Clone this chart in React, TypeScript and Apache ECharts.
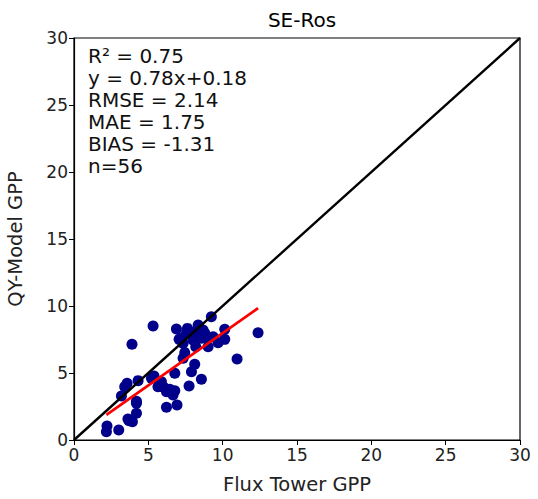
import React, { useEffect, useRef } from "react";
import * as echarts from "echarts";

const fluxGPP = [2.22, 2.18, 3.01, 3.63, 3.93, 4.2, 4.2, 3.19, 3.41, 3.57, 4.31, 3.9, 5.32, 5.38, 5.88, 5.65, 6.22, 6.78, 6.66, 6.22, 6.93, 6.78, 7.74, 8.57, 7.9, 8.12, 7.34, 7.45, 6.89, 7.63, 7.79, 7.07, 7.34, 8.19, 8.35, 8.68, 8.91, 9.02, 9.24, 9.36, 9.69, 10.14, 10.14, 10.97, 12.38, 8.57, 8.0, 8.12, 6.44, 6.04, 5.21, 4.2, 7.56, 8.8, 7.23, 3.7];
const modelGPP = [1.04, 0.62, 0.75, 1.57, 1.37, 1.99, 2.74, 3.28, 3.98, 4.23, 4.43, 7.14, 8.51, 4.78, 4.35, 3.98, 3.6, 3.68, 3.36, 2.44, 2.61, 4.98, 4.03, 4.53, 5.1, 5.65, 6.1, 6.52, 8.28, 8.33, 7.96, 7.51, 7.22, 6.96, 8.58, 8.21, 7.71, 6.96, 9.2, 7.71, 7.26, 8.26, 7.51, 6.04, 8.01, 7.59, 7.46, 8.08, 3.78, 3.93, 4.6, 2.9, 7.96, 7.96, 7.59, 1.44];
const slope = 0.78;
const intercept = 0.18;
const statLines = ["R² = 0.75", "y = 0.78x+0.18", "RMSE = 2.14", "MAE = 1.75", "BIAS = -1.31", "n=56"];
const axisMin = 0;
const axisMax = 30;
const tickStep = 5;

export default function App() {
  const ref = useRef<HTMLDivElement>(null);
  useEffect(() => {
    document.body.style.margin = "0";
    if (!ref.current) return;
    const chart = echarts.init(ref.current, null, { renderer: "svg" });
    const pts = fluxGPP.map((x, i) => [x, modelGPP[i]]);
    const xMin = Math.min(...fluxGPP);
    const xMax = Math.max(...fluxGPP);
    const font = "DejaVu Sans";
    const axisCommon = {
      min: axisMin,
      max: axisMax,
      interval: tickStep,
      axisLine: { show: true, onZero: false, lineStyle: { color: "#000", width: 1.2 } },
      axisTick: { show: true, length: 5, inside: false, lineStyle: { color: "#000" } },
      axisLabel: { color: "#222", fontSize: 17, fontFamily: font, margin: 6 },
      splitLine: { show: false },
    };
    chart.setOption({
      animation: false,
      backgroundColor: "#fff",
      title: {
        text: "SE-Ros",
        left: 297,
        textAlign: "center",
        top: 5,
        textStyle: { fontSize: 20, fontWeight: "normal", color: "#000", fontFamily: font },
      },
      grid: {
        left: 74,
        right: 18,
        top: 38,
        bottom: 59,
        containLabel: false,
        outerBoundsMode: "none",
        show: true,
        borderColor: "#000",
        borderWidth: 1.2,
        backgroundColor: "transparent",
      },
      xAxis: {
        ...axisCommon,
        type: "value",
        position: "bottom",
        name: "Flux Tower GPP",
        nameLocation: "middle",
        nameGap: 34,
        nameTextStyle: { fontSize: 19.5, color: "#222", fontFamily: font },
      },
      yAxis: {
        ...axisCommon,
        type: "value",
        position: "left",
        name: "QY-Model GPP",
        nameLocation: "middle",
        nameGap: 49,
        nameTextStyle: { fontSize: 19.5, color: "#222", fontFamily: font },
      },
      series: [
        {
          type: "line",
          data: [[axisMin, axisMin], [axisMax, axisMax]],
          symbol: "none",
          lineStyle: { color: "#000", width: 2.4 },
          z: 3,
        },
        {
          type: "scatter",
          data: pts,
          symbolSize: 11,
          itemStyle: { color: "#00008b", opacity: 1 },
          z: 2,
        },
        {
          type: "line",
          data: [[xMin, slope * xMin + intercept], [xMax, slope * xMax + intercept]],
          symbol: "none",
          lineStyle: { color: "#ff0000", width: 2.8 },
          z: 4,
        },
      ],
      graphic: [
        {
          type: "text",
          left: 88,
          top: 45,
          style: {
            text: statLines.join("\n"),
            fontSize: 20,
            lineHeight: 22,
            fill: "#111",
            fontFamily: font,
          },
        },
      ],
    });
    return () => chart.dispose();
  }, []);
  return <div ref={ref} style={{ width: 538, height: 499 }} />;
}
